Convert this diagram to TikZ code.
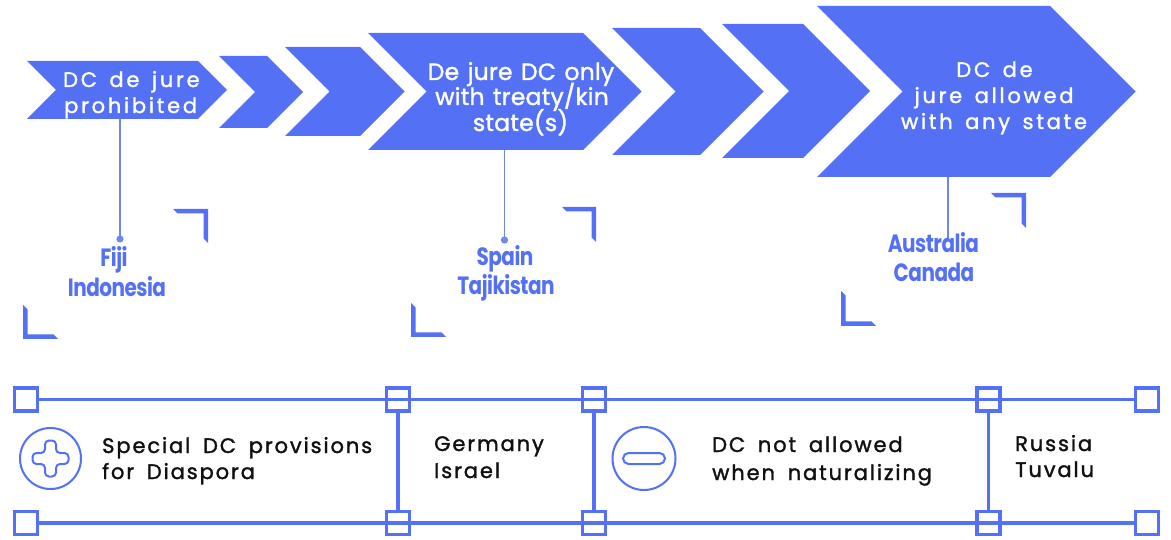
\documentclass[tikz,border=0pt]{standalone}
\usepackage{fontspec}
\setmainfont{Poppins}
\newfontfamily\chevfont[LetterSpace=13,WordSpace=1.5,FakeBold=1.5]{Poppins}
\newfontfamily\bigchevfont[LetterSpace=1,WordSpace=1.3,FakeBold=1.5]{Poppins}
\newfontfamily\cntfont[FakeStretch=0.8,LetterSpace=-2]{Poppins}
\newfontfamily\boxfont[LetterSpace=9,WordSpace=1.7,FakeBold=1.5]{Poppins}
\definecolor{cblue}{RGB}{84,113,246}
\definecolor{lblue}{RGB}{110,135,245}
\definecolor{txtblack}{RGB}{17,17,17}
\tikzset{
  chevtext/.style={text=white, inner sep=0, font=\chevfont\fontsize{21}{26}\selectfont},
  bigchevtext/.style={text=white, inner sep=0, font=\bigchevfont\fontsize{23.5}{28}\selectfont},
  cnttext/.style={text=cblue, inner sep=0, font=\cntfont\bfseries\fontsize{25}{28}\selectfont},
  boxtext/.style={text=txtblack, inner sep=0, anchor=base west, font=\boxfont\fontsize{21}{26}\selectfont},
  chevfill/.style={fill=cblue, draw=none},
  bracket/.style={fill=cblue, draw=none},
  leader/.style={draw=lblue, line width=1.3pt},
  sqbox/.style={draw=cblue, line width=3.3pt, minimum size=23pt, inner sep=0, fill=none},
  gridline/.style={draw=cblue, line width=3.3pt},
  icon/.style={draw=cblue, line width=2pt},
}
\newcommand{\chevron}[4]{% L, h, R, cy
  \fill[chevfill] (#1,#4-#2) -- (#3,#4-#2) -- (#3+#2,#4) -- (#3,#4+#2) -- (#1,#4+#2) -- (#1+#2,#4) -- cycle;}
\newcommand{\brTR}[4]{% x1,y1,x2,y2 top-right corner bracket
  \fill[bracket] (#1,#2) -- (#3,#2) -- (#3,#4) -- (#3-4.5,#4-4.5) -- (#3-4.5,#2+4.5) -- (#1+4.5,#2+4.5) -- cycle;}
\newcommand{\brBL}[4]{% x1,y1,x2,y2 bottom-left corner bracket
  \fill[bracket] (#1,#2) -- (#1+4.5,#2+4.5) -- (#1+4.5,#4-4.5) -- (#3-4.5,#4-4.5) -- (#3,#4) -- (#1,#4) -- cycle;}
\begin{document}
\begin{tikzpicture}[x=1pt,y=-1pt]
\fill[white] (0,0) rectangle (1171,540);
\useasboundingbox (0,0) rectangle (1171,540);

% chevrons
\chevron{27}{29}{198}{90}
\chevron{219}{36}{267}{92}
\chevron{285}{44.5}{360}{91.5}
\chevron{368}{58.5}{583}{91.5}
\chevron{612}{63.5}{700}{91.5}
\chevron{722}{67}{803}{91}
\chevron{817}{85.5}{1050}{91.5}

% chevron texts
\node[chevtext, anchor=base west] (t1a) at (63,87) {DC de jure};
\node[chevtext, anchor=base west] (t1b) at (64,113) {prohibited};
\node[bigchevtext, anchor=base] (t4a) at (521,80) {De jure DC only};
\node[bigchevtext, anchor=base] (t4b) at (522,105) {with treaty/kin};
\node[bigchevtext, anchor=base] (t4c) at (520.5,131) {state(s)};
\node[chevtext, anchor=base] (t7a) at (994.5,77) {DC de};
\node[chevtext, anchor=base] (t7b) at (994,103) {jure allowed};
\node[chevtext, anchor=base] (t7c) at (994,129) {with any state};

% leaders
\coordinate (s1) at (120,119);
\coordinate (e1) at (120,239);
\coordinate (s2) at (504.5,150);
\coordinate (e2) at (504.5,240);
\coordinate (s3) at (948,177);
\coordinate (e3) at (948,241);
\draw[leader] (s1) -- (e1);
\fill[lblue] (e1) circle (3.6);
\draw[leader] (s2) -- (e2);
\fill[lblue] (e2) circle (3.6);
\draw[leader] (s3) -- (e3);

% country labels
\node[cnttext, anchor=base] (fiji) at (114,267) {Fiji};
\node[cnttext, anchor=base] (indo) at (117,297) {Indonesia};
\node[cnttext, anchor=base] (spain) at (505,266) {Spain};
\node[cnttext, anchor=base] (taji) at (506,295) {Tajikistan};
\node[cnttext, anchor=base] (aus) at (933.5,253) {Australia};
\node[cnttext, anchor=base] (can) at (934,282) {Canada};

% brackets
\brTR{173}{209}{208}{243}
\brBL{23}{305}{58}{339}
\brTR{562}{207}{596}{242}
\brBL{411}{303}{446}{337}
\brTR{991}{193}{1026}{228}
\brBL{841}{291}{876}{326}

% bottom grid
\node[sqbox] (q1t) at (26,399.5) {};
\node[sqbox] (q2t) at (398,399.5) {};
\node[sqbox] (q3t) at (594,399.5) {};
\node[sqbox] (q4t) at (988.5,399.5) {};
\node[sqbox] (q5t) at (1147,399.5) {};
\node[sqbox] (q1b) at (26,523) {};
\node[sqbox] (q2b) at (398,523) {};
\node[sqbox] (q3b) at (594,523) {};
\node[sqbox] (q4b) at (988.5,523) {};
\node[sqbox] (q5b) at (1147,523) {};
\draw[gridline] (q1t) -- (q5t);
\draw[gridline] (q1b) -- (q5b);
\draw[gridline] (q2t) -- (q2b);
\draw[gridline] (q3t) -- (q3b);
\draw[gridline] (q4t) -- (q4b);

% icons
\node[circle, icon, minimum size=61pt, inner sep=0] (plus) at (50.5,458.5) {};
\draw[icon, rounded corners=4pt, shift={(plus.center)}]
  (-18,-5.5) -- (-5.5,-5.5) -- (-5.5,-18) -- (5.5,-18) -- (5.5,-5.5) -- (18,-5.5)
  -- (18,5.5) -- (5.5,5.5) -- (5.5,18) -- (-5.5,18) -- (-5.5,5.5) -- (-18,5.5) -- cycle;
\node[circle, icon, minimum size=63pt, inner sep=0] (minus) at (644,458.5) {};
\draw[icon, rounded corners=5.5pt, shift={(minus.center)}] (-21,-5.5) rectangle (21,5.5);

% bottom texts
\node[boxtext] (b1a) at (102,453) {Special DC provisions};
\node[boxtext] (b1b) at (102,479) {for Diaspora};
\node[boxtext] (b2a) at (434,451) {Germany};
\node[boxtext] (b2b) at (434,478) {Israel};
\node[boxtext] (b3a) at (712,452) {DC not allowed};
\node[boxtext] (b3b) at (712,480) {when naturalizing};
\node[boxtext] (b4a) at (1015,451) {Russia};
\node[boxtext] (b4b) at (1015,477) {Tuvalu};
\end{tikzpicture}
\end{document}
